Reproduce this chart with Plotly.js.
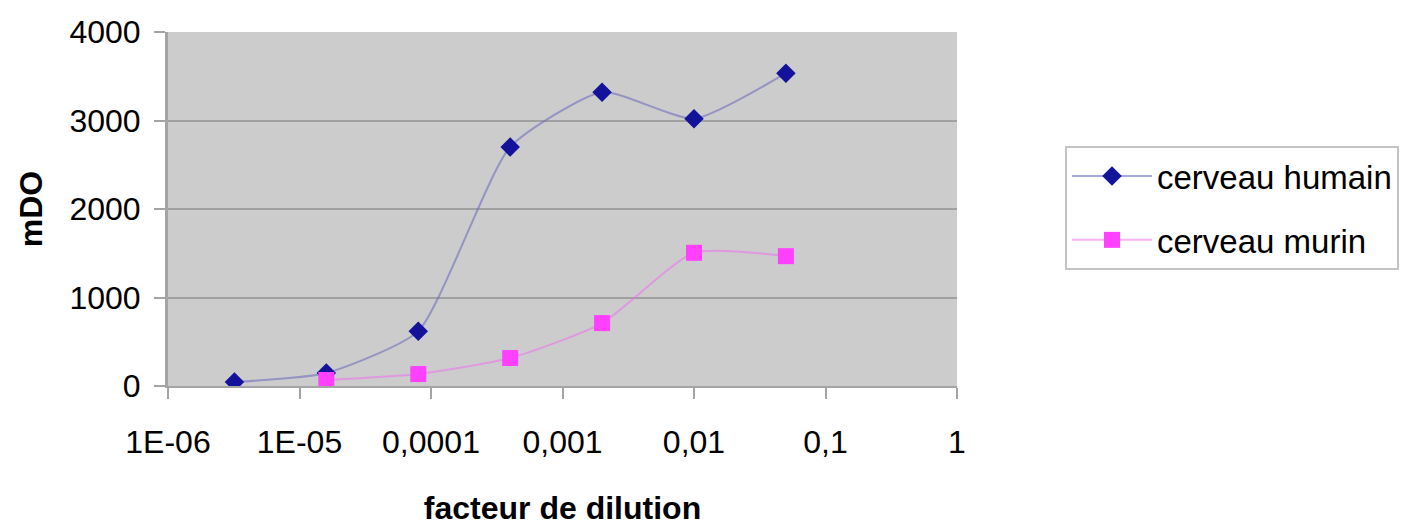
<!DOCTYPE html>
<html>
<head>
<meta charset="utf-8">
<script src="https://cdn.plot.ly/plotly-3.0.1.min.js"></script>
<style>
html,body{margin:0;padding:0;background:#fff;}
#chart{width:1401px;height:526px;}
</style>
</head>
<body>
<div id="chart"></div>
<script>
// dilution factors (5-fold serial dilution)
const dilutionHumain = [0.0000032, 0.000016, 0.00008, 0.0004, 0.002, 0.01, 0.05];
const mdoHumain = [45, 147, 620, 2700, 3320, 3020, 3535];
const dilutionMurin = [0.000016, 0.00008, 0.0004, 0.002, 0.01, 0.05];
const mdoMurin = [68, 135, 316, 711, 1505, 1467];
const xTickVals = [1e-6, 1e-5, 1e-4, 1e-3, 1e-2, 1e-1, 1];
const xTickText = ['1E-06', '1E-05', '0,0001', '0,001', '0,01', '0,1', '1'];
const yTickVals = [0, 1000, 2000, 3000, 4000];

const FONT = 'Liberation Sans, Arial, sans-serif';
const traces = [
  {
    x: dilutionHumain, y: mdoHumain, name: 'cerveau humain',
    type: 'scatter', mode: 'lines+markers', legendgroup: 'h',
    line: {shape: 'spline', smoothing: 0.55, color: 'rgba(110,110,190,0.6)', width: 2},
    marker: {symbol: 'diamond', size: 15, color: '#12129a'}
  },
  {
    x: dilutionMurin, y: mdoMurin, name: 'cerveau murin',
    type: 'scatter', mode: 'lines+markers', legendgroup: 'm',
    line: {shape: 'spline', smoothing: 0.6, color: 'rgba(240,110,240,0.55)', width: 2},
    marker: {symbol: 'square', size: 16, color: '#ff40ff'}
  }
];

const layout = {
  width: 1401, height: 526,
  margin: {l: 168, r: 444, t: 32, b: 140, pad: 0},
  paper_bgcolor: '#ffffff',
  plot_bgcolor: '#cccccc',
  font: {family: FONT, size: 32, color: '#000'},
  showlegend: true,
  legend: {
    xref: 'container', yref: 'container',
    x: 1065 / 1401, xanchor: 'left', y: 1 - 146 / 526, yanchor: 'top',
    bordercolor: '#c4c4c4', borderwidth: 2, bgcolor: '#ffffff',
    font: {family: FONT, size: 33, color: '#000'},
    itemwidth: 80, tracegroupgap: 18
  },
  xaxis: {
    type: 'log', range: [-6, 0],
    tickmode: 'array', tickvals: xTickVals, ticktext: xTickText,
    showgrid: false, zeroline: false,
    showline: true, linecolor: '#a4a4a4', linewidth: 2,
    ticks: 'outside', ticklen: 11, tickwidth: 2, tickcolor: '#a4a4a4',
    ticklabelstandoff: 16,
    tickfont: {family: FONT, size: 32, color: '#000'},
    title: {text: 'facteur de dilution', font: {family: FONT, size: 32, color: '#000', weight: 'bold'}, standoff: 52}
  },
  yaxis: {
    range: [0, 4000],
    tickmode: 'array', tickvals: yTickVals,
    showgrid: true, gridcolor: '#a0a0a0', gridwidth: 2,
    zeroline: false,
    showline: true, linecolor: '#a4a4a4', linewidth: 3,
    ticks: 'outside', ticklen: 11, tickwidth: 2, tickcolor: '#a4a4a4',
    ticklabelstandoff: 7,
    tickfont: {family: FONT, size: 32, color: '#000'},
    title: {text: 'mDO', font: {family: FONT, size: 32, color: '#000', weight: 'bold'}, standoff: 18}
  }
};

Plotly.newPlot('chart', traces, layout, {displayModeBar: false, staticPlot: true});
</script>
</body>
</html>
